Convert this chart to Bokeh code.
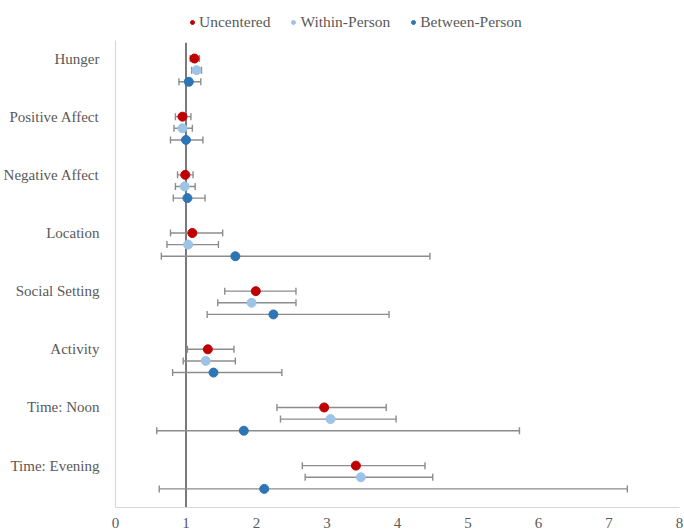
from bokeh.plotting import figure
from bokeh.models import (ColumnDataSource, Whisker, TeeHead, FixedTicker, Legend,
                          LegendItem, Range1d)
from bokeh.embed import file_html
from bokeh.resources import INLINE

categories = ["Hunger", "Positive Affect", "Negative Affect", "Location",
              "Social Setting", "Activity", "Time: Noon", "Time: Evening"]
series_names = ["Uncentered", "Within-Person", "Between-Person"]

unc_est = [1.12, 0.95, 0.99, 1.09, 1.99, 1.31, 2.96, 3.41]
unc_lo = [1.06, 0.85, 0.88, 0.78, 1.55, 1.02, 2.29, 2.65]
unc_hi = [1.19, 1.07, 1.10, 1.52, 2.56, 1.68, 3.84, 4.39]

win_est = [1.15, 0.95, 0.98, 1.03, 1.93, 1.28, 3.05, 3.48]
win_lo = [1.08, 0.83, 0.85, 0.73, 1.45, 0.96, 2.34, 2.69]
win_hi = [1.22, 1.09, 1.13, 1.46, 2.56, 1.70, 3.98, 4.50]

btw_est = [1.04, 1.00, 1.02, 1.70, 2.24, 1.39, 1.82, 2.11]
btw_lo = [0.90, 0.78, 0.82, 0.65, 1.30, 0.81, 0.585, 0.62]
btw_hi = [1.21, 1.24, 1.27, 4.46, 3.88, 2.36, 5.73, 7.26]

x_ticks = [0, 1, 2, 3, 4, 5, 6, 7, 8]
reference_value = 1

colors = ["#C00000", "#9DC3E6", "#2E75B6"]
offsets = [0.0, 0.2, 0.4]
FONT = "Liberation Serif"
TXT = "#595959"
ERR = "#8C8C8C"

n = len(categories)
cat_pos = [n - i for i in range(n)]

Y_LO, Y_DATA_TOP, Y_HI = 0.28, 8.31, 8.86
HEIGHT = 530
TOP = 8
BOTTOM_PANEL = 24
FRAME_H = HEIGHT - TOP - BOTTOM_PANEL

p = figure(width=684, height=HEIGHT, output_backend="svg", toolbar_location=None,
           x_range=Range1d(0, 8), y_range=Range1d(Y_LO, Y_HI),
           min_border_left=105, min_border_right=5, min_border_top=TOP,
           min_border_bottom=20)
p.outline_line_color = None
p.xgrid.visible = False
p.ygrid.visible = False
p.background_fill_color = "white"
p.border_fill_color = "white"

p.segment(x0=[reference_value], y0=[Y_LO], x1=[reference_value], y1=[Y_DATA_TOP - 0.04],
          line_color="#595959", line_width=1.6, level="underlay")

all_series = [(unc_est, unc_lo, unc_hi), (win_est, win_lo, win_hi), (btw_est, btw_lo, btw_hi)]
legend_items = []
for (est, lo, hi), col, off, name in zip(all_series, colors, offsets, series_names):
    ys = [c - off for c in cat_pos]
    src = ColumnDataSource(dict(x=est, lo=lo, hi=hi, y=ys))
    w = Whisker(source=src, base="y", lower="lo", upper="hi", dimension="width",
                line_color=ERR, line_width=1.4, level="underlay",
                lower_head=TeeHead(size=7, line_color=ERR, line_width=1.4),
                upper_head=TeeHead(size=7, line_color=ERR, line_width=1.4))
    p.add_layout(w)
    p.scatter("x", "y", source=src, size=9, fill_color=col, line_color=col)
    key = p.scatter("x", "y", source=src, size=7, fill_color=col, line_color=col,
                    visible=False)
    legend_items.append(LegendItem(label=name, renderers=[key]))

legend = Legend(items=legend_items, orientation="horizontal", location=(72, FRAME_H - 22),
                border_line_color=None, background_fill_alpha=0,
                inactive_fill_alpha=0,
                label_text_font=FONT, label_text_font_size="15.5px",
                label_text_color=TXT, glyph_width=10, glyph_height=16,
                label_standoff=2, spacing=18, padding=0, margin=0)
p.add_layout(legend, "center")

p.xaxis.ticker = FixedTicker(ticks=x_ticks)
p.yaxis.ticker = FixedTicker(ticks=cat_pos)
p.yaxis.major_label_overrides = {pos: c for pos, c in zip(cat_pos, categories)}
p.yaxis.bounds = (Y_LO, Y_DATA_TOP)

for ax in (p.xaxis, p.yaxis):
    ax.axis_line_color = "#D9D9D9"
    ax.axis_line_width = 1.2
    ax.major_tick_line_color = None
    ax.minor_tick_line_color = None
    ax.major_label_text_font = FONT
    ax.major_label_text_font_size = "15px"
    ax.major_label_text_color = TXT
p.yaxis.major_label_standoff = 10
p.xaxis.major_label_standoff = 4

open("out.html", "w").write(file_html(p, INLINE))
